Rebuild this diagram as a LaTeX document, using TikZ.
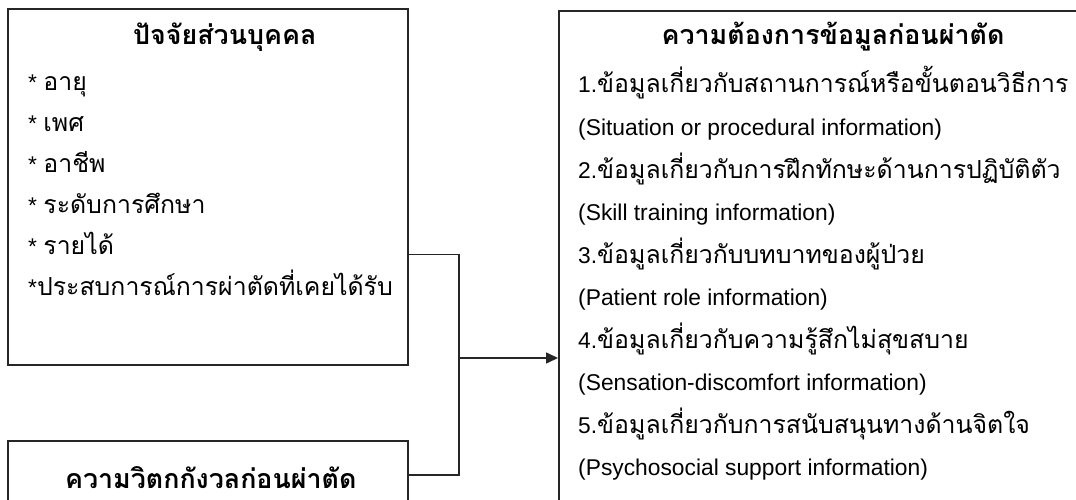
\documentclass[tikz,border=0pt]{standalone}
\usepackage{fontspec}
\setmainfont{Liberation Sans}
\newfontfamily\thai[Script=Thai, Scale=1.09]{Loma}
\usetikzlibrary{positioning, arrows.meta}

\begin{document}
\begin{tikzpicture}[
    x=1pt, y=-1pt, >=Stealth,
    box/.style={draw=black!85, line width=1.6pt, inner sep=0pt, anchor=north west},
    head/.style={inner sep=0pt, anchor=base, font=\fontsize{24.6}{28}\selectfont\thai\bfseries},
    item/.style={inner sep=0pt, font=\fontsize{22.8}{26}\selectfont},
    link/.style={draw=black!85, line width=1.6pt}
]
    \clip (0,0) rectangle (1076,500);

    % Boxes
    \node[box, minimum width=400pt, minimum height=356pt] (personal) at (7,8) {};
    \node[box, minimum width=400pt, minimum height=100pt] (anxiety) at (7,440) {};
    \node[box, minimum width=560pt, minimum height=530pt] (need) at (558,10) {};

    % Personal factors
    \node[head] (ptitle) at ([xshift=17pt, yshift=-37pt]personal.north) {ปัจจัยส่วนบุคคล};
    \node[item, anchor=base west] (p1) at ([xshift=21pt, yshift=-83pt]personal.north west) {* {\thai อายุ}};
    \node[item, below=40.8pt of p1.base west, anchor=base west] (p2) {* {\thai เพศ}};
    \node[item, below=40.8pt of p2.base west, anchor=base west] (p3) {* {\thai อาชีพ}};
    \node[item, below=40.8pt of p3.base west, anchor=base west] (p4) {* {\thai ระดับการศึกษา}};
    \node[item, below=40.8pt of p4.base west, anchor=base west] (p5) {* {\thai รายได้}};
    \node[item, below=40.8pt of p5.base west, anchor=base west] (p6) {*{\thai ประสบการณ์การผ่าตัดที่เคยได้รับ}};

    % Pre-operative anxiety
    \node[head] (atitle) at ([xshift=3pt, yshift=-48pt]anxiety.north) {ความวิตกกังวลก่อนผ่าตัด};

    % Information needs
    \node[head] (ntitle) at (833,45) {ความต้องการข้อมูลก่อนผ่าตัด};
    \node[item, anchor=base west] (n1) at ([xshift=20pt, yshift=-83pt]need.north west) {1.{\thai ข้อมูลเกี่ยวกับสถานการณ์หรือขั้นตอนวิธีการ}};
    \node[item, below=42.5pt of n1.base west, anchor=base west] (n2) {(Situation or procedural information)};
    \node[item, below=42.5pt of n2.base west, anchor=base west] (n3) {2.{\thai ข้อมูลเกี่ยวกับการฝึกทักษะด้านการปฏิบัติตัว}};
    \node[item, below=42.5pt of n3.base west, anchor=base west] (n4) {(Skill training information)};
    \node[item, below=42.5pt of n4.base west, anchor=base west] (n5) {3.{\thai ข้อมูลเกี่ยวกับบทบาทของผู้ป่วย}};
    \node[item, below=42.5pt of n5.base west, anchor=base west] (n6) {(Patient role information)};
    \node[item, below=42.5pt of n6.base west, anchor=base west] (n7) {4.{\thai ข้อมูลเกี่ยวกับความรู้สึกไม่สุขสบาย}};
    \node[item, below=42.5pt of n7.base west, anchor=base west] (n8) {(Sensation-discomfort information)};
    \node[item, below=42.5pt of n8.base west, anchor=base west] (n9) {5.{\thai ข้อมูลเกี่ยวกับการสนับสนุนทางด้านจิตใจ}};
    \node[item, below=42.5pt of n9.base west, anchor=base west] (n10) {(Psychosocial support information)};

    % Connectors
    \coordinate (join) at (459,358);
    \draw[link] ([yshift=111pt]personal.south east) -| (join);
    \draw[link] ([yshift=-35pt]anxiety.north east) -| (join);
    \draw[link, -{Triangle[length=12pt, width=11pt]}] (join) -- (need.west |- join);

\end{tikzpicture}
\end{document}
